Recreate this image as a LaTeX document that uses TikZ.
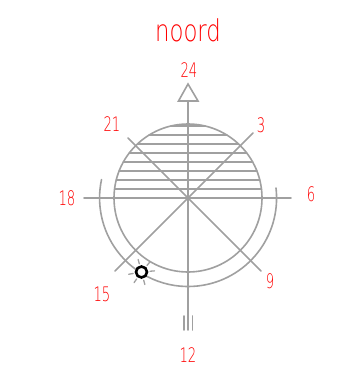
\documentclass[tikz,border=0pt]{standalone}
\usepackage{xcolor}
\usepackage{fontspec}
\setmainfont{DejaVu Sans ExtraLight}
\usetikzlibrary{calc}
\definecolor{sungray}{HTML}{A0A0A0}
\definecolor{labelred}{HTML}{FF0000}
\tikzset{
    dial/.style={draw=sungray, line width=1.6pt},
    hourlabel/.style={text=labelred, inner sep=0pt, font=\fontsize{20}{22}\selectfont, xscale=0.66},
    titlelabel/.style={text=labelred, inner sep=0pt, font=\fontsize{30}{33}\selectfont, xscale=0.76},
}
\begin{document}
\begin{tikzpicture}[x=1pt, y=-1pt, line cap=round]
    \useasboundingbox (0,0) rectangle (340,380);
    \coordinate (centre) at (188,198);
    % hatching on the upper half
    \foreach \i in {0,1,...,8} {
        \draw[dial] let \n1={sqrt(74*74-81*\i*\i)} in
            ($(centre)+(-\n1,-9*\i)$) -- ($(centre)+(\n1,-9*\i)$);
    }
    \draw[dial] (centre) circle[radius=74];
    % outer arc, open at the top
    \draw[dial] (276,188) arc[start angle=-6.5, end angle=192, radius=88.5];
    % main axes
    \coordinate (west) at (84,198);
    \coordinate (east) at (291,198);
    \coordinate (tail) at (188,330);
    \coordinate (head) at (188,101);
    \draw[dial] (west) -- (east);
    \draw[dial] (head) -- (tail);
    \draw[dial] (188,84) -- (198,101) -- (178.5,101) -- cycle;
    \draw[dial] (184,316) -- (184,330);
    \draw[dial] (192.5,316) -- (192.5,330);
    % diagonals
    \coordinate (nw) at (128,138);
    \coordinate (se) at (261,271);
    \coordinate (ne) at (253,133);
    \coordinate (sw) at (115,271);
    \draw[dial] (nw) -- (se);
    \draw[dial] (ne) -- (sw);
    % sun
    \coordinate (sun) at (141.5,272);
    \foreach \a in {-5,-50,-105,-190,125,75} {
        \draw[dial, line width=1.3pt] ($(sun)+(\a:8.5)$) -- ($(sun)+(\a:13)$);
    }
    \node[draw=black, line width=2.6pt, circle, minimum size=11pt, inner sep=0pt, fill=white] (sunring) at (sun) {};
    % labels
    \node[titlelabel] (north) at (188,30) {noord};
    \node[hourlabel] (h24) at (189,70) {24};
    \node[hourlabel] (h3) at (261,125) {3};
    \node[hourlabel] (h6) at (311,194) {6};
    \node[hourlabel] (h9) at (270,281) {9};
    \node[hourlabel] (h12) at (188,355) {12};
    \node[hourlabel] (h15) at (102,294) {15};
    \node[hourlabel] (h18) at (67,198) {18};
    \node[hourlabel] (h21) at (112,124) {21};
\end{tikzpicture}
\end{document}
